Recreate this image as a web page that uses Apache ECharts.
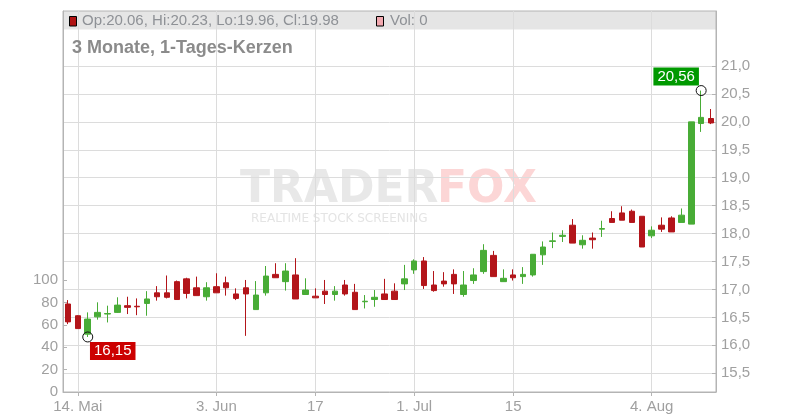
<!DOCTYPE html>
<html><head><meta charset="utf-8">
<script src="https://cdn.jsdelivr.net/npm/echarts@6/dist/echarts.min.js"></script>
<style>html,body{margin:0;padding:0;background:#fff}#c{width:800px;height:420px}</style>
</head><body><div id="c"></div>
<script>
const dates = [
 '2025-05-13','2025-05-14','2025-05-15','2025-05-16','2025-05-19','2025-05-20','2025-05-21','2025-05-22','2025-05-23','2025-05-26','2025-05-27','2025-05-28','2025-05-29','2025-05-30',
 '2025-06-02','2025-06-03','2025-06-04','2025-06-05','2025-06-06','2025-06-09','2025-06-10','2025-06-11','2025-06-12','2025-06-13','2025-06-16','2025-06-17','2025-06-18','2025-06-19','2025-06-20','2025-06-23','2025-06-24','2025-06-25','2025-06-26','2025-06-27','2025-06-30',
 '2025-07-01','2025-07-02','2025-07-03','2025-07-04','2025-07-07','2025-07-08','2025-07-09','2025-07-10','2025-07-11','2025-07-14','2025-07-15','2025-07-16','2025-07-17','2025-07-18','2025-07-21','2025-07-22','2025-07-23','2025-07-24','2025-07-25','2025-07-28','2025-07-29','2025-07-30','2025-07-31',
 '2025-08-01','2025-08-04','2025-08-05','2025-08-06','2025-08-07','2025-08-08','2025-08-11','2025-08-12'
];
const opens = [16.74,16.53,16.20,16.51,16.56,16.59,16.71,16.70,16.75,16.94,16.94,17.14,17.19,17.03,16.87,17.05,17.12,16.92,17.03,16.64,
 16.94,17.27,17.14,17.26,16.91,16.88,16.97,16.91,17.08,16.95,16.78,16.82,16.92,16.97,17.10,17.35,17.51,17.08,17.15,17.27,
 16.91,17.16,17.32,17.61,17.14,17.26,17.23,17.26,17.62,17.86,17.95,18.15,17.80,17.92,18.08,18.27,18.37,18.40,18.31,17.96,
 18.15,18.28,18.20,18.17,19.97,20.06];
const closes = [16.42,16.30,16.47,16.59,16.57,16.72,16.68,16.69,16.83,16.87,16.86,16.82,16.93,16.89,17.03,16.94,17.03,16.84,16.92,16.90,
 17.24,17.21,17.33,16.83,16.99,16.85,16.91,16.97,16.92,16.64,16.79,16.86,16.82,16.82,17.19,17.51,17.07,16.98,17.10,17.10,
 17.08,17.26,17.70,17.23,17.20,17.21,17.27,17.63,17.76,17.87,17.97,17.83,17.88,17.89,18.09,18.20,18.24,18.20,17.76,18.06,
 18.08,18.03,18.33,20.00,20.08,19.98];
const lows = [16.38,16.30,16.15,16.46,16.41,16.58,16.56,16.54,16.53,16.80,16.84,16.82,16.84,16.89,16.80,16.94,16.89,16.81,16.17,16.64,
 16.89,17.21,16.98,16.83,16.91,16.85,16.74,16.80,16.89,16.64,16.66,16.69,16.82,16.82,16.99,17.28,17.01,16.96,17.05,16.92,
 16.87,17.10,17.28,17.23,17.14,17.16,17.10,17.23,17.44,17.74,17.85,17.83,17.73,17.73,17.94,18.20,18.24,18.20,17.76,17.92,
 18.03,18.03,18.20,18.17,19.82,19.96];
const highs = [16.81,16.54,16.59,16.77,16.71,16.86,16.87,16.84,16.97,17.06,17.25,17.16,17.21,17.23,17.13,17.29,17.23,17.02,17.17,17.15,
 17.42,17.47,17.47,17.56,17.20,17.02,17.17,17.06,17.17,17.10,16.90,16.99,17.19,17.11,17.44,17.54,17.58,17.33,17.31,17.36,
 17.33,17.38,17.81,17.69,17.36,17.36,17.40,17.63,17.86,18.02,18.06,18.26,17.97,18.02,18.23,18.40,18.49,18.43,18.31,18.13,
 18.29,18.31,18.45,20.00,20.56,20.23];
const volumes = [0,0,0,0,0,0,0,0,0,0,0,0,0,0,0,0,0,0,0,0,0,0,0,0,0,0,0,0,0,0,0,0,0,0,0,0,0,0,0,0,0,0,0,0,0,0,0,0,0,0,0,0,0,0,0,0,0,0,0,0,0,0,0,0,0,0];
const tickDates = ['2025-05-14','2025-06-03','2025-06-17','2025-07-01','2025-07-15','2025-08-04'];
const tickLabels = ['14. Mai','3. Jun','17','1. Jul','15','4. Aug'];
const priceTicks = [15.5,16,16.5,17,17.5,18,18.5,19,19.5,20,20.5,21];
const volumeTicks = [0,20,40,60,80,100];
const titleText = '3 Monate, 1-Tages-Kerzen';

const UP = '#48ac36', DOWN = '#b3151a';
const candleData = dates.map((d, i) => [opens[i], closes[i], lows[i], highs[i]]);
let iLow = 0, iHigh = 0;
for (let i = 0; i < dates.length; i++) {
  if (lows[i] < lows[iLow]) iLow = i;
  if (highs[i] > highs[iHigh]) iHigh = i;
}
const last = dates.length - 1;
const deNum = (v, d) => v.toFixed(d).replace('.', ',');
const tickIdx = tickDates.map(d => dates.indexOf(d));
const isTick = (idx) => tickIdx.indexOf(idx) >= 0;
const ohlcText = 'Op:' + opens[last].toFixed(2) + ', Hi:' + highs[last].toFixed(2) + ', Lo:' + lows[last].toFixed(2) + ', Cl:' + closes[last].toFixed(2);
const volText = 'Vol: ' + volumes[last];
const FONT = "'Liberation Sans', Arial, sans-serif";
const AX = '#b4b4b4', GRID = '#dcdcdc', LBL = '#a0a0a0';

const chart = echarts.init(document.getElementById('c'), null, {renderer: 'canvas'});
chart.setOption({
  animation: false,
  backgroundColor: '#fff',
  textStyle: {fontFamily: FONT},
  grid: {left: 63, right: 84, top: 11, bottom: 28, show: true, borderColor: AX, borderWidth: 1, backgroundColor: 'transparent'},
  xAxis: {
    type: 'category', data: dates, boundaryGap: true,
    axisLine: {show: true, lineStyle: {color: AX}},
    axisTick: {show: true, alignWithLabel: true, interval: isTick, length: 4, lineStyle: {color: AX}},
    axisLabel: {interval: isTick, color: LBL, fontSize: 15, margin: 7,
      formatter: (v) => tickLabels[tickDates.indexOf(v)]},
    splitLine: {show: true, interval: isTick, alignWithLabel: true, lineStyle: {color: GRID}}
  },
  yAxis: [
    {type: 'value', position: 'right', min: 15.165, max: 21.984,
     axisLine: {show: true, lineStyle: {color: AX}},
     axisTick: {show: true, inside: true, length: 4, customValues: priceTicks, lineStyle: {color: AX}},
     axisLabel: {customValues: priceTicks, color: LBL, fontSize: 15, margin: 5, formatter: (v) => deNum(v, 1)},
     splitLine: {show: true, lineStyle: {color: GRID}}},
    {type: 'value', position: 'left', min: 0, max: 340.2,
     axisLine: {show: true, lineStyle: {color: AX}},
     axisTick: {show: true, inside: true, length: 4, customValues: volumeTicks, lineStyle: {color: AX}},
     axisLabel: {customValues: volumeTicks, color: LBL, fontSize: 15, margin: 5},
     splitLine: {show: false}}
  ],
  series: [
    {type: 'candlestick', data: candleData, barWidth: 6, yAxisIndex: 0, z: 3,
     itemStyle: {color: UP, color0: DOWN, borderColor: UP, borderColor0: DOWN, borderWidth: 1},
     markPoint: {
       symbol: 'circle', symbolSize: 10, silent: true,
       itemStyle: {color: 'rgba(0,0,0,0)', borderColor: '#111', borderWidth: 1},
       label: {show: true, color: '#fff', fontSize: 15, padding: [2, 4, 1, 4], position: 'inside'},
       data: [
         {coord: [dates[iLow], lows[iLow]], value: lows[iLow],
          label: {offset: [25, 14], backgroundColor: '#cc0000', formatter: deNum(lows[iLow], 2)}},
         {coord: [dates[iHigh], highs[iHigh]], value: highs[iHigh],
          label: {offset: [-25, -14], backgroundColor: '#009900', formatter: deNum(highs[iHigh], 2)}}
       ]
     }},
    {type: 'bar', yAxisIndex: 1, data: volumes, barWidth: 6, itemStyle: {color: '#f0a8b0'}}
  ],
  graphic: [
    {type: 'rect', z: -5, silent: true, shape: {x: 63, y: 11, width: 653, height: 18.5}, style: {fill: '#e5e5e5'}},
    {type: 'rect', z: 5, shape: {x: 69.5, y: 16.5, width: 7, height: 9.5}, style: {fill: '#b01212', stroke: '#000', lineWidth: 1}},
    {type: 'text', z: 5, style: {x: 82, y: 21, text: ohlcText, font: '15px ' + FONT, fill: '#8e9196', verticalAlign: 'middle', textVerticalAlign: 'middle'}},
    {type: 'rect', z: 5, shape: {x: 376.5, y: 16.5, width: 7, height: 9.5}, style: {fill: '#f2a9b0', stroke: '#000', lineWidth: 1}},
    {type: 'text', z: 5, style: {x: 390, y: 21, text: volText, font: '15px ' + FONT, fill: '#8e9196', verticalAlign: 'middle', textVerticalAlign: 'middle'}},
    {type: 'text', z: 5, style: {x: 72, y: 48, text: titleText, font: 'bold 18px ' + FONT, fill: '#8b8b8b', verticalAlign: 'middle', textVerticalAlign: 'middle'}},
    {type: 'text', z: -1, silent: true, style: {x: 240, y: 191, text: 'TRADER', font: 'bold 44px "DejaVu Sans"', fill: '#e8e8e8', verticalAlign: 'middle', textVerticalAlign: 'middle'}},
    {type: 'text', z: -1, silent: true, style: {x: 437, y: 191, text: 'FOX', font: 'bold 44px "DejaVu Sans"', fill: '#fcd6d6', verticalAlign: 'middle', textVerticalAlign: 'middle'}},
    {type: 'text', z: -1, silent: true, style: {x: 251, y: 219, text: 'REALTIME STOCK SCREENING', font: '12px "DejaVu Sans"', fill: '#e4e4e4', verticalAlign: 'middle', textVerticalAlign: 'middle'}}
  ]
});
</script>
</body></html>
